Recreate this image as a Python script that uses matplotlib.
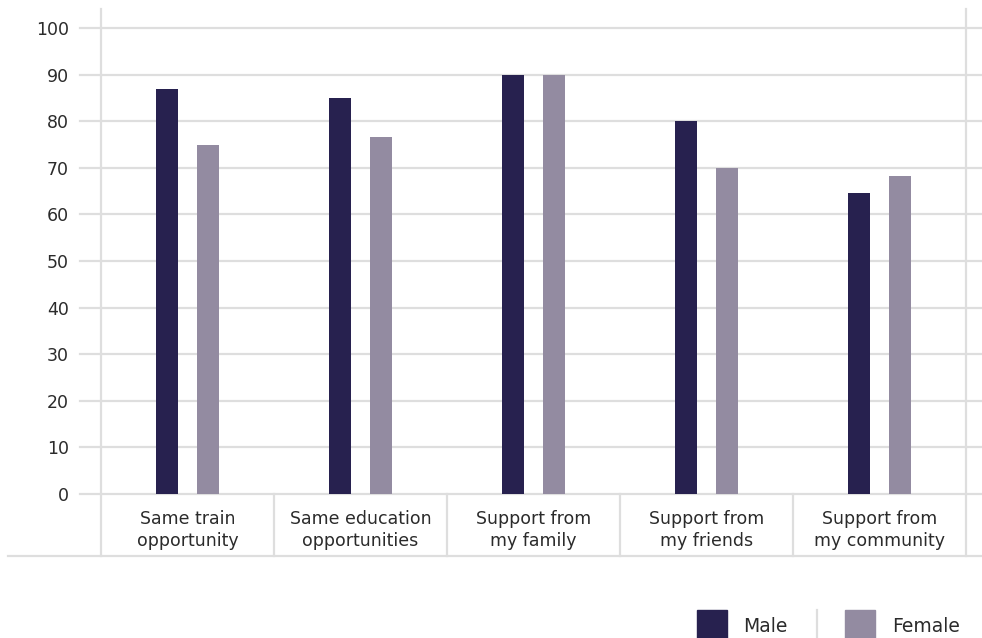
import matplotlib
matplotlib.use("Agg")
import matplotlib.pyplot as plt
import numpy as np
from matplotlib.patches import Rectangle
from matplotlib.lines import Line2D

categories = [
    "Same train\nopportunity",
    "Same education\nopportunities",
    "Support from\nmy family",
    "Support from\nmy friends",
    "Support from\nmy community",
]
male = [87, 85, 90, 80, 64.6]
female = [75, 76.6, 90, 70, 68.3]
series_names = ["Male", "Female"]
y_ticks = [0, 10, 20, 30, 40, 50, 60, 70, 80, 90, 100]

MALE_COLOR = "#27214f"
FEMALE_COLOR = "#938ba1"
GRID_COLOR = "#dedede"
TEXT_COLOR = "#2b2b2b"

plt.rcParams["font.family"] = ["DejaVu Sans"]

W, H = 982, 638
fig = plt.figure(figsize=(W / 100, H / 100), dpi=100)

# plot area in pixels: x 101..966, y(0)=494, top edge at 9
left_px, right_px, zero_px, top_px = 101, 966, 494, 9
px_per_unit = (494 - 28) / 100.0
ymax = (zero_px - top_px) / px_per_unit
ax = fig.add_axes([left_px / W, (H - zero_px) / H,
                   (right_px - left_px) / W, (zero_px - top_px) / H])

n = len(categories)
x = np.arange(n)
bw = 0.127
off = 0.117
ax.bar(x - off, male, width=bw, color=MALE_COLOR, zorder=3)
ax.bar(x + off, female, width=bw, color=FEMALE_COLOR, zorder=3)

ax.set_xlim(-0.5, n - 0.5)
ax.set_ylim(0, ymax)
for s in ax.spines.values():
    s.set_visible(False)
ax.set_xticks([])
ax.set_yticks(y_ticks)
ax.tick_params(axis="y", length=0, pad=23, labelsize=12.5, labelcolor=TEXT_COLOR)

ax_w = right_px - left_px
ax_h = zero_px - top_px
lw = 1.6
# horizontal gridlines reaching past the plot area on both sides
for yv in y_ticks:
    ax.axhline(yv, xmin=-(left_px - 80) / ax_w, xmax=(982 - left_px) / ax_w,
               color=GRID_COLOR, lw=lw, zorder=1, clip_on=False)

# vertical frame lines and category separators
bottom_ax = -(556 - zero_px) / ax_h
for i in range(n + 1):
    xa = i / n
    ytop = 1.0 if i in (0, n) else 0.0
    ax.add_line(Line2D([xa, xa], [bottom_ax, ytop], transform=ax.transAxes,
                       color=GRID_COLOR, lw=lw, clip_on=False, zorder=1))
ax.add_line(Line2D([(8 - left_px) / ax_w, (982 - left_px) / ax_w],
                   [bottom_ax, bottom_ax], transform=ax.transAxes,
                   color=GRID_COLOR, lw=lw, clip_on=False, zorder=1))

# category labels inside the table row
label_y = -(530 - zero_px) / px_per_unit
for i, lab in enumerate(categories):
    ax.text(i, label_y, lab,
            ha="center", va="center", fontsize=12.5, color=TEXT_COLOR,
            linespacing=1.27, clip_on=False)

# legend row
def fx(p):
    return p / W

def fy(p):
    return 1 - p / H

sq = 30
fig.patches.append(Rectangle((fx(697), fy(640)), sq / W, sq / H,
                             transform=fig.transFigure, color=MALE_COLOR))
fig.text(fx(743), fy(626), series_names[0], ha="left", va="center",
         fontsize=13.5, color=TEXT_COLOR)
fig.add_artist(Line2D([fx(817), fx(817)], [fy(610), fy(640)],
                      transform=fig.transFigure, color=GRID_COLOR, lw=lw))
fig.patches.append(Rectangle((fx(845), fy(640)), sq / W, sq / H,
                             transform=fig.transFigure, color=FEMALE_COLOR))
fig.text(fx(892), fy(626), series_names[1], ha="left", va="center",
         fontsize=13.5, color=TEXT_COLOR)

fig.savefig("out.png", dpi=100)
